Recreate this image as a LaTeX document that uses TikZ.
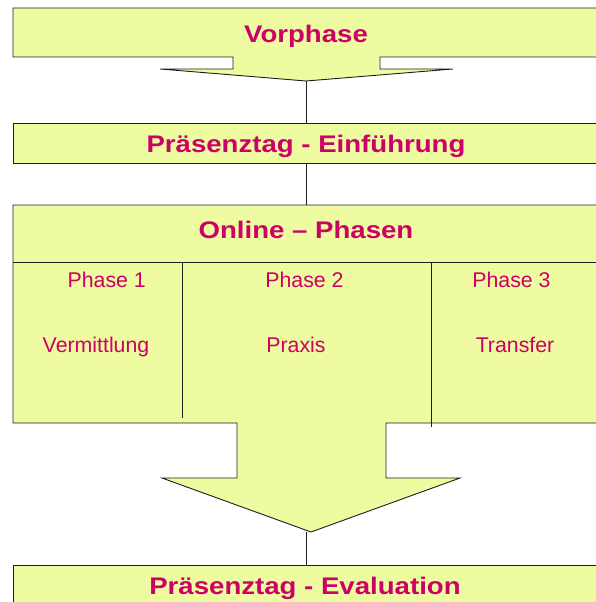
\documentclass[tikz,border=0pt]{standalone}
\usepackage{fontspec}
\setmainfont{Liberation Sans}
\newfontfamily\widebold[FakeStretch=1.15]{Liberation Sans Bold}
\definecolor{boxfill}{RGB}{239,251,160}
\definecolor{txtc}{RGB}{204,0,102}
\definecolor{linec}{RGB}{30,30,30}
\tikzset{
  shapebox/.style={draw=linec, line width=0.9pt, fill=boxfill, line join=miter},
  sepline/.style={draw=linec, line width=0.9pt},
  conn/.style={draw=linec, line width=0.9pt},
  titletxt/.style={font=\widebold\fontsize{24}{28}\selectfont, text=txtc, anchor=base, inner sep=0pt},
  phasetxt/.style={font=\fontsize{21.3}{25}\selectfont, text=txtc, anchor=base, inner sep=0pt}
}
\begin{document}
\begin{tikzpicture}[x=1pt,y=-1pt]
\useasboundingbox (0,0) rectangle (596,602);
\clip (0,0) rectangle (596,602);
% Vorphase box with arrow
\path[shapebox] (13,8) -- (610,8) -- (610,57) -- (380,57) -- (380,69) -- (453,69)
  -- (306,81) -- (160,69) -- (233,69) -- (233,57) -- (13,57) -- cycle;
\coordinate (tip1) at (306,81);
\node[titletxt] (vor) at (306,43) {Vorphase};
% Praesenztag - Einfuehrung
\path[shapebox] (13,123) rectangle (610,163);
\coordinate (b2top) at (306,123);
\coordinate (b2bot) at (306,163);
\node[titletxt] (ein) at (306,152.3) {Präsenztag - Einführung};
% Online phases box with arrow
\path[shapebox] (13,205) -- (610,205) -- (610,423) -- (386,423) -- (386,478) -- (460,478)
  -- (311,532) -- (162,478) -- (237,478) -- (237,423) -- (13,423) -- cycle;
\coordinate (b3top) at (306,205);
\coordinate (tip2) at (306,532);
\path[sepline] (13,262) -- (610,262);
\path[sepline] (182,262) -- (182,418);
\path[sepline] (431,262) -- (431,427);
\node[titletxt] (onl) at (306,238) {Online – Phasen};
\node[phasetxt] (p1) at (106.7,287.3) {Phase 1};
\node[phasetxt] (p2) at (304.5,287.3) {Phase 2};
\node[phasetxt] (p3) at (511.5,287.3) {Phase 3};
\node[phasetxt] (v1) at (96,352.3) {Vermittlung};
\node[phasetxt] (v2) at (296,352.3) {Praxis};
\node[phasetxt] (v3) at (515,352.3) {Transfer};
% Evaluation box
\path[shapebox] (13,565) rectangle (610,620);
\coordinate (b4top) at (306,565);
\node[titletxt] (eva) at (305,594) {Präsenztag - Evaluation};
% connectors
\path[conn] (tip1) -- (b2top);
\path[conn] (b2bot) -- (b3top);
\path[conn] (tip2) -- (b4top);
\end{tikzpicture}
\end{document}
